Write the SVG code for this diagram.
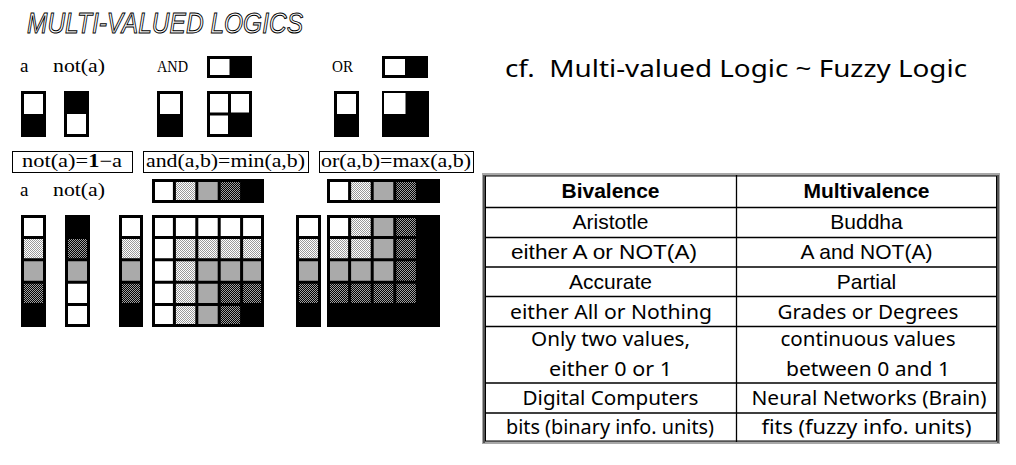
<svg xmlns="http://www.w3.org/2000/svg" width="1016" height="465" viewBox="0 0 1016 465">
<defs>
<pattern id="lt" width="2" height="2" patternUnits="userSpaceOnUse"><rect width="2" height="2" fill="#fff"/><rect width="1" height="1" fill="#9a9a9a"/><rect x="1" y="1" width="1" height="1" fill="#9a9a9a"/></pattern>
<pattern id="dk" width="2" height="2" patternUnits="userSpaceOnUse"><rect width="2" height="2" fill="#000"/><rect width="1" height="1" fill="#a0a0a0"/><rect x="1" y="1" width="1" height="1" fill="#a0a0a0"/></pattern>
</defs>
<style>
.w{fill:#fff}.l{fill:url(#lt)}.g{fill:#aaa}.d{fill:url(#dk)}.b{fill:#000}
.o{fill:none;stroke:#000;stroke-width:3}
.ln{fill:none;stroke:#000;stroke-width:3}
.ser{font-family:"Liberation Serif",serif;fill:#000}
.fb{fill:#fff;stroke:#000;stroke-width:1}
.tl{stroke:#000;stroke-width:1.3;fill:none}
.ar{font-family:"Liberation Sans",Arial,sans-serif;font-size:21px;fill:#000;text-anchor:middle}
.arb{font-family:"Liberation Sans",Arial,sans-serif;font-size:21px;font-weight:bold;fill:#000;text-anchor:middle}
.mg{font-family:"Noto Sans","Open Sans",sans-serif;font-size:20px;fill:#000;text-anchor:middle}
</style>
<rect width="1016" height="465" fill="#fff"/>

<g id="title">
<text x="27" y="33" font-family="Liberation Sans, sans-serif" font-style="italic" font-size="29" fill="#fff" stroke="#000" stroke-width="1" textLength="276" lengthAdjust="spacingAndGlyphs">MULTI-VALUED LOGICS</text>
</g>

<g id="cf-title">
<text x="505" y="77" font-family="Noto Sans, Open Sans, sans-serif" font-size="24" fill="#000" textLength="462" lengthAdjust="spacingAndGlyphs" xml:space="preserve">cf.  Multi-valued Logic ~ Fuzzy Logic</text>
</g>

<g id="labels-top" class="ser">
<text x="20" y="72" font-size="19">a</text>
<text x="53" y="72" font-size="19" textLength="52" lengthAdjust="spacingAndGlyphs">not(a)</text>
<text x="157" y="72" font-size="17" textLength="31" lengthAdjust="spacingAndGlyphs">AND</text>
<text x="332" y="72" font-size="17" textLength="21" lengthAdjust="spacingAndGlyphs">OR</text>
</g>

<g id="not-top">
<rect x="21" y="91" width="25" height="23" class="w"/><rect x="21" y="114" width="25" height="23" class="b"/><rect x="22.5" y="92.5" width="22" height="43" class="o"/>
<rect x="64" y="91" width="25" height="23" class="b"/><rect x="64" y="114" width="25" height="23" class="w"/><rect x="65.5" y="92.5" width="22" height="43" class="o"/>
</g>

<g id="and-top">
<rect x="207" y="56" width="22.5" height="22" class="w"/><rect x="229.5" y="56" width="22.5" height="22" class="b"/><rect x="208.5" y="57.5" width="42" height="19" class="o"/>
<rect x="157" y="91" width="26" height="23" class="w"/><rect x="157" y="114" width="26" height="23" class="b"/><rect x="158.5" y="92.5" width="23" height="43" class="o"/>
<rect x="207" y="91" width="45" height="46" class="w"/><rect x="229.5" y="114" width="22.5" height="23" class="b"/>
<path class="ln" d="M229.5 91V137M207 114H252"/><rect x="208.5" y="92.5" width="42" height="43" class="o"/>
</g>

<g id="or-top">
<rect x="382" y="56" width="23" height="22" class="w"/><rect x="405" y="56" width="23" height="22" class="b"/><rect x="383.5" y="57.5" width="43" height="19" class="o"/>
<rect x="334" y="91" width="25" height="23" class="w"/><rect x="334" y="114" width="25" height="23" class="b"/><rect x="335.5" y="92.5" width="22" height="43" class="o"/>
<rect x="382" y="91" width="47" height="46" class="b"/><rect x="384" y="93" width="21.5" height="21" class="w"/>
</g>

<g id="formulas" class="ser">
<rect x="12.5" y="151.5" width="120" height="21" class="fb"/>
<text x="22" y="167" font-size="18" textLength="100" lengthAdjust="spacingAndGlyphs">not(a)=<tspan font-weight="bold">1</tspan>−a</text>
<rect x="143.5" y="151.5" width="165" height="21" class="fb"/>
<text x="146" y="167" font-size="18" textLength="159" lengthAdjust="spacingAndGlyphs">and(a,b)=min(a,b)</text>
<rect x="319.5" y="151.5" width="154" height="21" class="fb"/>
<text x="321" y="167" font-size="18" textLength="150" lengthAdjust="spacingAndGlyphs">or(a,b)=max(a,b)</text>
</g>

<g id="labels-bottom" class="ser">
<text x="20" y="196" font-size="19">a</text>
<text x="53" y="196" font-size="19" textLength="52" lengthAdjust="spacingAndGlyphs">not(a)</text>
</g>

<g id="not-bottom">
<rect x="21" y="215" width="25" height="22.4" class="w"/><rect x="21" y="237.4" width="25" height="22.4" class="l"/><rect x="21" y="259.8" width="25" height="22.4" class="g"/><rect x="21" y="282.2" width="25" height="22.4" class="d"/><rect x="21" y="304.6" width="25" height="22.4" class="b"/>
<path class="ln" d="M21 237.4H46M21 259.8H46M21 282.2H46M21 304.6H46"/><rect x="22.5" y="216.5" width="22" height="109" class="o"/>
<rect x="65" y="215" width="25" height="22.4" class="b"/><rect x="65" y="237.4" width="25" height="22.4" class="d"/><rect x="65" y="259.8" width="25" height="22.4" class="g"/><rect x="65" y="282.2" width="25" height="22.4" class="w"/><rect x="65" y="304.6" width="25" height="22.4" class="w"/>
<path class="ln" d="M65 237.4H90M65 259.8H90M65 282.2H90M65 304.6H90"/><rect x="66.5" y="216.5" width="22" height="109" class="o"/>
</g>

<g id="and-bottom">
<rect x="152" y="179" width="22.4" height="24" class="w"/><rect x="174.4" y="179" width="22.4" height="24" class="l"/><rect x="196.8" y="179" width="22.4" height="24" class="g"/><rect x="219.2" y="179" width="22.4" height="24" class="d"/><rect x="241.6" y="179" width="22.4" height="24" class="b"/>
<path class="ln" d="M174.4 179V203M196.8 179V203M219.2 179V203M241.6 179V203"/><rect x="153.5" y="180.5" width="109" height="21" class="o"/>
<rect x="119" y="215" width="24" height="22.4" class="w"/><rect x="119" y="237.4" width="24" height="22.4" class="l"/><rect x="119" y="259.8" width="24" height="22.4" class="g"/><rect x="119" y="282.2" width="24" height="22.4" class="d"/><rect x="119" y="304.6" width="24" height="22.4" class="b"/>
<path class="ln" d="M119 237.4H143M119 259.8H143M119 282.2H143M119 304.6H143"/><rect x="120.5" y="216.5" width="21" height="109" class="o"/>
<rect x="152" y="215" width="112" height="112" class="w"/>
<rect x="174.4" y="237.4" width="89.6" height="89.6" class="l"/>
<rect x="196.8" y="259.8" width="67.2" height="67.2" class="g"/>
<rect x="219.2" y="282.2" width="44.8" height="44.8" class="d"/>
<rect x="241.6" y="304.6" width="22.4" height="22.4" class="b"/>
<path class="ln" d="M174.4 215V327M196.8 215V327M219.2 215V327M241.6 215V327M152 237.4H264M152 259.8H264M152 282.2H264M152 304.6H264"/>
<rect x="153.5" y="216.5" width="109" height="109" class="o"/>
</g>

<g id="or-bottom">
<rect x="327" y="179" width="22.6" height="24" class="w"/><rect x="349.6" y="179" width="22.6" height="24" class="l"/><rect x="372.2" y="179" width="22.6" height="24" class="g"/><rect x="394.8" y="179" width="22.6" height="24" class="d"/><rect x="417.4" y="179" width="22.6" height="24" class="b"/>
<path class="ln" d="M349.6 179V203M372.2 179V203M394.8 179V203M417.4 179V203"/><rect x="328.5" y="180.5" width="110" height="21" class="o"/>
<rect x="296" y="215" width="25" height="22.4" class="w"/><rect x="296" y="237.4" width="25" height="22.4" class="l"/><rect x="296" y="259.8" width="25" height="22.4" class="g"/><rect x="296" y="282.2" width="25" height="22.4" class="d"/><rect x="296" y="304.6" width="25" height="22.4" class="b"/>
<path class="ln" d="M296 237.4H321M296 259.8H321M296 282.2H321M296 304.6H321"/><rect x="297.5" y="216.5" width="22" height="109" class="o"/>
<rect x="327" y="215" width="113" height="112" class="b"/>
<rect x="327" y="215" width="90.4" height="89.6" class="d"/>
<rect x="327" y="215" width="67.8" height="67.2" class="g"/>
<rect x="327" y="215" width="45.2" height="44.8" class="l"/>
<rect x="327" y="215" width="22.6" height="22.4" class="w"/>
<path class="ln" d="M349.6 215V304.6M372.2 215V304.6M394.8 215V304.6M417.4 215V327M327 237.4H417.4M327 259.8H417.4M327 282.2H417.4M327 304.6H440"/>
<rect x="328.5" y="216.5" width="110" height="109" class="o"/>
</g>

<g id="table">
<rect x="483.5" y="174.5" width="515" height="268" fill="none" stroke="#a8a8a8" stroke-width="3"/>
<rect x="485.5" y="176" width="511" height="265" fill="none" stroke="#000" stroke-width="1"/>
<line x1="484" y1="175" x2="484" y2="443" stroke="#000" stroke-width="1"/>
<line x1="998" y1="175" x2="998" y2="443" stroke="#000" stroke-width="1"/>
<path class="tl" d="M736.5 175V442M485 207.5H997M485 237.5H997M485 267H997M485 296.5H997M485 326.5H997M485 383H997M485 413H997"/>
<text class="arb" x="610.5" y="198">Bivalence</text>
<text class="arb" x="866.5" y="198">Multivalence</text>
<text class="ar" x="610.5" y="229">Aristotle</text>
<text class="ar" x="866.5" y="229">Buddha</text>
<text class="ar" x="604" y="259" textLength="186" lengthAdjust="spacingAndGlyphs">either A or NOT(A)</text>
<text class="ar" x="866.5" y="259">A and NOT(A)</text>
<text class="ar" x="610.5" y="289">Accurate</text>
<text class="ar" x="866.5" y="289">Partial</text>
<text class="mg" x="611" y="319" textLength="202" lengthAdjust="spacingAndGlyphs">either All or Nothing</text>
<text class="mg" x="868" y="319" textLength="181" lengthAdjust="spacingAndGlyphs">Grades or Degrees</text>
<text class="mg" x="610.5" y="346" textLength="159" lengthAdjust="spacingAndGlyphs">Only two values,</text>
<text class="mg" x="610.5" y="376" textLength="123" lengthAdjust="spacingAndGlyphs">either 0 or 1</text>
<text class="mg" x="868" y="346" textLength="175" lengthAdjust="spacingAndGlyphs">continuous values</text>
<text class="mg" x="868" y="376" textLength="164" lengthAdjust="spacingAndGlyphs">between 0 and 1</text>
<text class="mg" x="610.5" y="405" textLength="176" lengthAdjust="spacingAndGlyphs">Digital Computers</text>
<text class="mg" x="869" y="405" textLength="235" lengthAdjust="spacingAndGlyphs">Neural Networks (Brain)</text>
<text class="mg" x="610" y="434" textLength="208" lengthAdjust="spacingAndGlyphs">bits (binary info. units)</text>
<text class="mg" x="866.5" y="434" textLength="210" lengthAdjust="spacingAndGlyphs">fits (fuzzy info. units)</text>
</g>
</svg>
